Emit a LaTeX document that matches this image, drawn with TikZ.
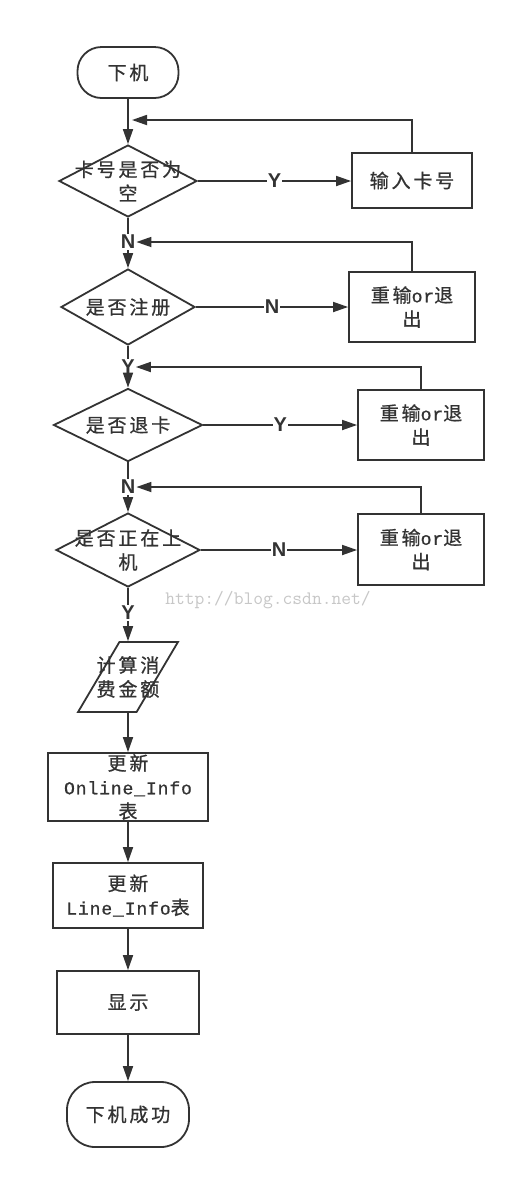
\documentclass[tikz,border=0pt]{standalone}
\usepackage{fontspec}
\setmainfont[LetterSpace=15, FakeBold=0.8]{Noto Sans CJK SC}
\newfontfamily\mono[LetterSpace=5, FakeBold=0.8]{Liberation Mono}
\newfontfamily\ynfont{Liberation Sans}
\usetikzlibrary{shapes.geometric,arrows.meta}
\definecolor{ink}{HTML}{333333}
\begin{document}
\begin{tikzpicture}[x=1pt,y=-1pt,
  font=\fontsize{19}{24}\selectfont, text=ink,
  base/.style={draw=ink, line width=1.8pt},
  term/.style={base, rectangle, inner sep=0pt, align=center},
  proc/.style={base, rectangle, inner sep=0pt, align=center},
  dec/.style={base, diamond, inner sep=0pt},
  io/.style={base, trapezium, inner sep=2pt, trapezium left angle=71, trapezium right angle=109, trapezium stretches=true},
  lbl/.style={font=\ynfont\bfseries\fontsize{20}{20}\selectfont, inner sep=1pt, fill=white, text=ink},
  arr/.style={draw=ink, line width=1.7pt, -{Triangle[length=15pt,width=10pt]}},
  ln/.style={draw=ink, line width=1.7pt}]
\useasboundingbox[fill=white] (0,0) rectangle (516,1179);

% main column
\node[term, rounded corners=24pt, minimum width=101pt, minimum height=51pt] (start) at (128,72.5) {下机};
\node[dec, minimum width=138pt, minimum height=72pt, label={[align=center]center:{卡号是否为\\空}}] (d1) at (128,181) {};
\node[lbl] (n1) at (128,242) {N};
\node[dec, minimum width=134pt, minimum height=76pt, label={[align=center]center:{是否注册}}] (d2) at (128,307) {};
\node[lbl] (y2) at (128,367) {Y};
\node[dec, minimum width=149pt, minimum height=73pt, label={[align=center]center:{是否退卡}}] (d3) at (128,425) {};
\node[lbl] (n3) at (128,487) {N};
\node[dec, minimum width=144pt, minimum height=74pt, label={[align=center]center:{是否正在上\\机}}] (d4) at (128,550) {};
\node[lbl] (y4) at (128,613) {Y};
\node[io, minimum width=100pt, minimum height=70pt, label={[align=center]center:{计算消\\费金额}}] (calc) at (128,677) {\strut};
\node[proc, minimum width=160pt, minimum height=68pt] (upd1) at (128,787) {更新\\{\mono\fontsize{18}{24}\selectfont Online\_Info}\\表};
\node[proc, minimum width=150pt, minimum height=65pt] (upd2) at (128,895.5) {更新\\{\mono\fontsize{18}{24}\selectfont Line\_Info}表};
\node[proc, minimum width=142pt, minimum height=63pt] (show) at (128,1002.5) {显示};
\node[term, rounded corners=28pt, minimum width=122pt, minimum height=65pt] (end) at (128,1114.5) {下机成功};

% side boxes
\node[proc, minimum width=120pt, minimum height=55pt] (b1) at (412,180.5) {输入卡号};
\node[proc, minimum width=126pt, minimum height=70pt] (b2) at (412,307) {重输{\mono\fontsize{18}{24}\selectfont or}退\\出};
\node[proc, minimum width=126pt, minimum height=70pt] (b3) at (421,425) {重输{\mono\fontsize{18}{24}\selectfont or}退\\出};
\node[proc, minimum width=126pt, minimum height=71pt] (b4) at (421,549.5) {重输{\mono\fontsize{18}{24}\selectfont or}退\\出};

\coordinate (j1) at (132,120);

% watermark
\node[text=black!22, font=\ttfamily\fontsize{19}{19}\selectfont] (wm) at (268,600) {http://blog.csdn.net/};

% main flow
\draw[arr] (start) -- (d1);
\draw[ln] (d1) -- (n1);
\draw[arr] (n1) -- (d2);
\draw[ln] (d2) -- (y2);
\draw[arr] (y2) -- (d3);
\draw[ln] (d3) -- (n3);
\draw[arr] (n3) -- (d4);
\draw[ln] (d4) -- (y4);
\draw[arr] (y4) -- (calc);
\draw[arr] (calc) -- (upd1);
\draw[arr] (upd1) -- (upd2);
\draw[arr] (upd2) -- (show);
\draw[arr] (show) -- (end);

% branches
\draw[arr] (d1.east) -- node[lbl]{Y} (d1.east -| b1.west);
\draw[arr] (d2.east) -- node[lbl]{N} (d2.east -| b2.west);
\draw[arr] (d3.east) -- node[lbl]{Y} (d3.east -| b3.west);
\draw[arr] (d4.east) -- node[lbl]{N} (d4.east -| b4.west);

% returns
\draw[arr] (b1.north) |- (j1);
\draw[arr] (b2.north) |- (n1.east);
\draw[arr] (b3.north) |- (y2.east);
\draw[arr] (b4.north) |- (n3.east);
\end{tikzpicture}
\end{document}
